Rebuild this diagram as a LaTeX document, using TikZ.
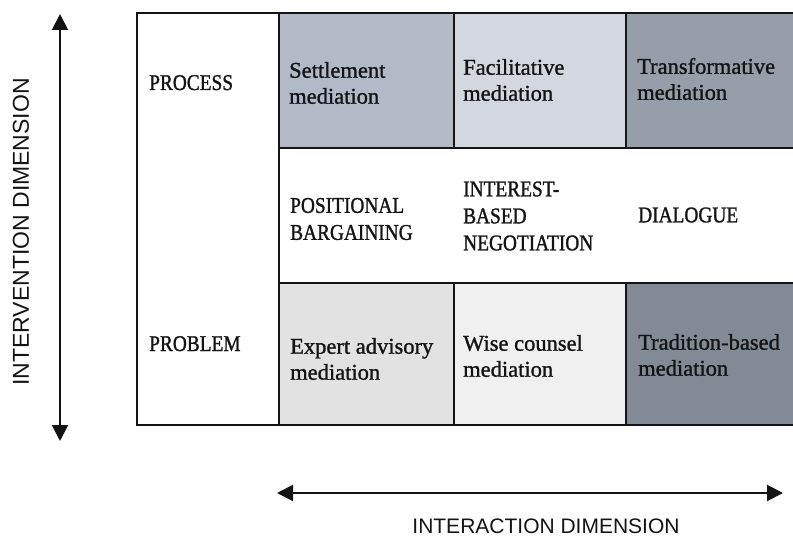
\documentclass[tikz,border=0pt]{standalone}
\usepackage{fontspec}
\setmainfont{Liberation Serif}
\newfontfamily\cellf[FakeBold=1.2]{Liberation Serif}
\newfontfamily\capsf[FakeBold=1.2,FakeStretch=0.86]{Liberation Serif}
\newfontfamily\arialf{Liberation Sans}
\usetikzlibrary{arrows.meta}
\definecolor{settlec}{RGB}{178,186,200}
\definecolor{facilc}{RGB}{210,215,224}
\definecolor{transc}{RGB}{150,158,170}
\definecolor{expertc}{RGB}{226,226,226}
\definecolor{wisec}{RGB}{240,240,240}
\definecolor{tradc}{RGB}{130,138,150}
\definecolor{inkc}{RGB}{20,20,20}
\begin{document}
\begin{tikzpicture}[x=1pt,y=-1pt,
  cell/.style={draw=inkc, line width=1.4pt},
  mixtext/.style={font=\cellf\fontsize{22.5}{26}\selectfont, anchor=west, align=left, inner sep=0pt, text=inkc},
  capstext/.style={font=\capsf\fontsize{22.5}{27}\selectfont, anchor=west, align=left, inner sep=0pt, text=inkc},
  rowlabel/.style={font=\capsf\fontsize{22.5}{27}\selectfont, anchor=base west, inner sep=0pt, text=inkc},
  axislabel/.style={font=\arialf\fontsize{21}{24}\selectfont, inner sep=0pt, text=inkc},
  axisarrow/.style={draw=inkc, line width=2pt, {Triangle[length=16pt,width=16pt]}-{Triangle[length=16pt,width=16pt]}}]
\useasboundingbox (0,0) rectangle (793,540);
\begin{scope}
\clip (0,0) rectangle (793,540);
% left column
\draw[cell, fill=white] (137,13) rectangle (279,425);
% top row
\draw[cell, fill=settlec] (279,13) rectangle (454,148);
\draw[cell, fill=facilc] (454,13) rectangle (626,148);
\draw[cell, fill=transc] (626,13) rectangle (800,148);
% middle row
\draw[cell, fill=white] (279,148) rectangle (800,283);
% bottom row
\draw[cell, fill=expertc] (279,283) rectangle (454,425);
\draw[cell, fill=wisec] (454,283) rectangle (626,425);
\draw[cell, fill=tradc] (626,283) rectangle (800,425);
\end{scope}
% row labels
\node[rowlabel] (process) at (149,90) {PROCESS};
\node[rowlabel] (problem) at (149,351) {PROBLEM};
% top row texts
\node[mixtext] (settle) at (289,83) {Settlement\\mediation};
\node[mixtext] (facil) at (463,80) {Facilitative\\mediation};
\node[mixtext] (trans) at (637,79) {Transformative\\mediation};
% middle row texts
\node[capstext] (posit) at (290,219) {POSITIONAL\\BARGAINING};
\node[capstext] (inter) at (463,216) {INTEREST-\\BASED\\NEGOTIATION};
\node[capstext] (dialog) at (638,215) {DIALOGUE};
% bottom row texts
\node[mixtext] (expert) at (290,359) {Expert advisory\\mediation};
\node[mixtext] (wise) at (463,356) {Wise counsel\\mediation};
\node[mixtext] (trad) at (638,355) {Tradition-based\\mediation};
% axes
\coordinate (vtop) at (60,14);
\coordinate (vbot) at (60,441);
\draw[axisarrow] (vtop) -- (vbot);
\node[axislabel, font=\arialf\fontsize{23}{26}\selectfont, rotate=90] (vlab) at (21,232) {INTERVENTION DIMENSION};
\coordinate (hleft) at (277,493);
\coordinate (hright) at (783,493);
\draw[axisarrow] (hleft) -- (hright);
\node[axislabel] (hlab) at (546,526) {INTERACTION DIMENSION};
\end{tikzpicture}
\end{document}
